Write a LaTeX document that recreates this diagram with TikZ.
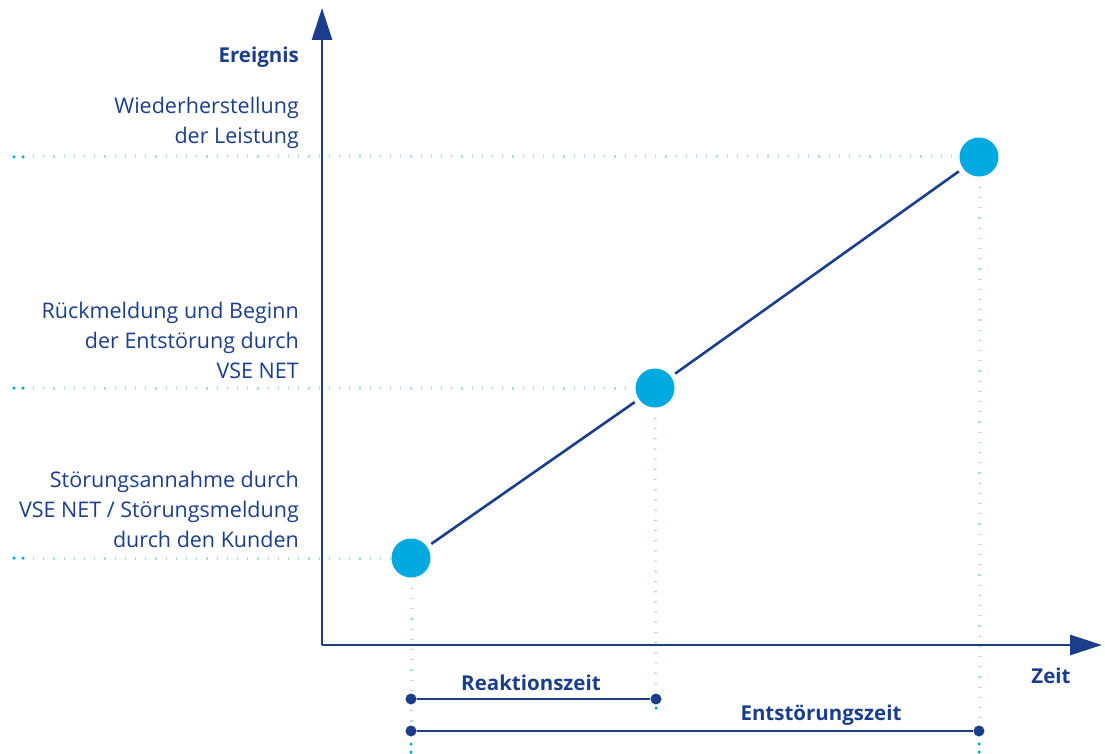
\documentclass[tikz,border=0pt]{standalone}
\usepackage{fontspec}
\setmainfont{Open Sans}
\usetikzlibrary{arrows.meta}
\definecolor{dblue}{RGB}{27,62,140}
\definecolor{cblue}{RGB}{0,169,224}
\definecolor{lblue}{RGB}{165,220,240}
\tikzset{
  axis/.style={draw=dblue, line width=2.8pt, -{Triangle[length=32pt,width=20pt]}},
  ev/.style={circle, fill=cblue, minimum size=39pt, inner sep=0pt},
  guide/.style={draw=lblue, line width=3pt, dash pattern=on 1.2pt off 9pt},
  gdot/.style={circle, fill=cblue, minimum size=3.5pt, inner sep=0pt},
  lbl/.style={text=dblue, font=\fontsize{21.5pt}{30pt}\selectfont, align=right, anchor=east, inner sep=0pt},
  blbl/.style={text=dblue, font=\fontsize{20.5pt}{30pt}\selectfont\bfseries, inner sep=0pt},
  span/.style={draw=dblue, line width=2.6pt},
  sdot/.style={circle, fill=dblue, minimum size=11pt, inner sep=0pt},
}
\begin{document}
\begin{tikzpicture}[x=1pt,y=-1pt]
\useasboundingbox (0,0) rectangle (1105,754);
% guides
\node[gdot] (h1a) at (14,157) {}; \node[gdot] (h1b) at (23,157) {};
\node[gdot] (h2a) at (14,388) {}; \node[gdot] (h2b) at (23,388) {};
\node[gdot] (h3a) at (14,558) {}; \node[gdot] (h3b) at (23,558) {};
\node[ev] (e3) at (979,157) {};
\node[ev] (e2) at (655,388) {};
\node[ev] (e1) at (411,558) {};
\draw[guide] (h1b) ++(10,0) coordinate (h1c) -- (e3.west);
\draw[guide] (h2b) ++(10,0) coordinate (h2c) -- (e2.west);
\draw[guide] (h3b) ++(10,0) coordinate (h3c) -- (e1.west);
\coordinate (v1end) at (411,736);
\coordinate (v2end) at (656,692);
\coordinate (v3end) at (979,736);
\draw[guide] (e1.south) ++(0,10) coordinate (v1s) -- (v1end);
\draw[guide] (e2.south) ++(0,10) coordinate (v2s) -- (v2end);
\draw[guide] (e3.south) ++(0,10) coordinate (v3s) -- (v3end);
\node[gdot] (d1a) at (411,744) {}; \node[gdot] (d1b) at (411,752) {};
\node[gdot] (d2a) at (656,708) {};
\node[gdot] (d3a) at (979,744) {}; \node[gdot] (d3b) at (979,752) {};
% axes
\coordinate (o) at (322,645);
\coordinate (ytip) at (322,8);
\coordinate (xtip) at (1102,645);
\draw[axis] (o) -- (ytip);
\draw[axis] (o) -- (xtip);
% event line
\draw[dblue, line width=2.6pt, shorten <=5pt, shorten >=5pt] (e1) -- (e2);
\draw[dblue, line width=2.6pt, shorten <=5pt, shorten >=5pt] (e2) -- (e3);
% labels
\node[blbl, anchor=east] (yl) at (299,57) {Ereignis};
\node[lbl] (l3) at (299,123) {Wiederherstellung\\der Leistung};
\node[lbl] (l2) at (299,340) {Rückmeldung und Beginn\\der Entstörung durch\\VSE NET};
\node[lbl] (l1) at (299,509) {Störungsannahme durch\\VSE NET / Störungsmeldung\\durch den Kunden};
\node[blbl] (xl) at (1051,676) {Zeit};
% spans
\node[sdot] (r1) at (411,699) {};
\node[sdot] (r2) at (656,699) {};
\draw[span] (r1) -- (r2);
\node[blbl] (rl) at (531,683) {Reaktionszeit};
\node[sdot] (s1) at (411,731) {};
\node[sdot] (s2) at (979,731) {};
\draw[span] (s1) -- (s2);
\node[blbl] (sl) at (821,715) {Entstörungszeit};
\end{tikzpicture}
\end{document}
